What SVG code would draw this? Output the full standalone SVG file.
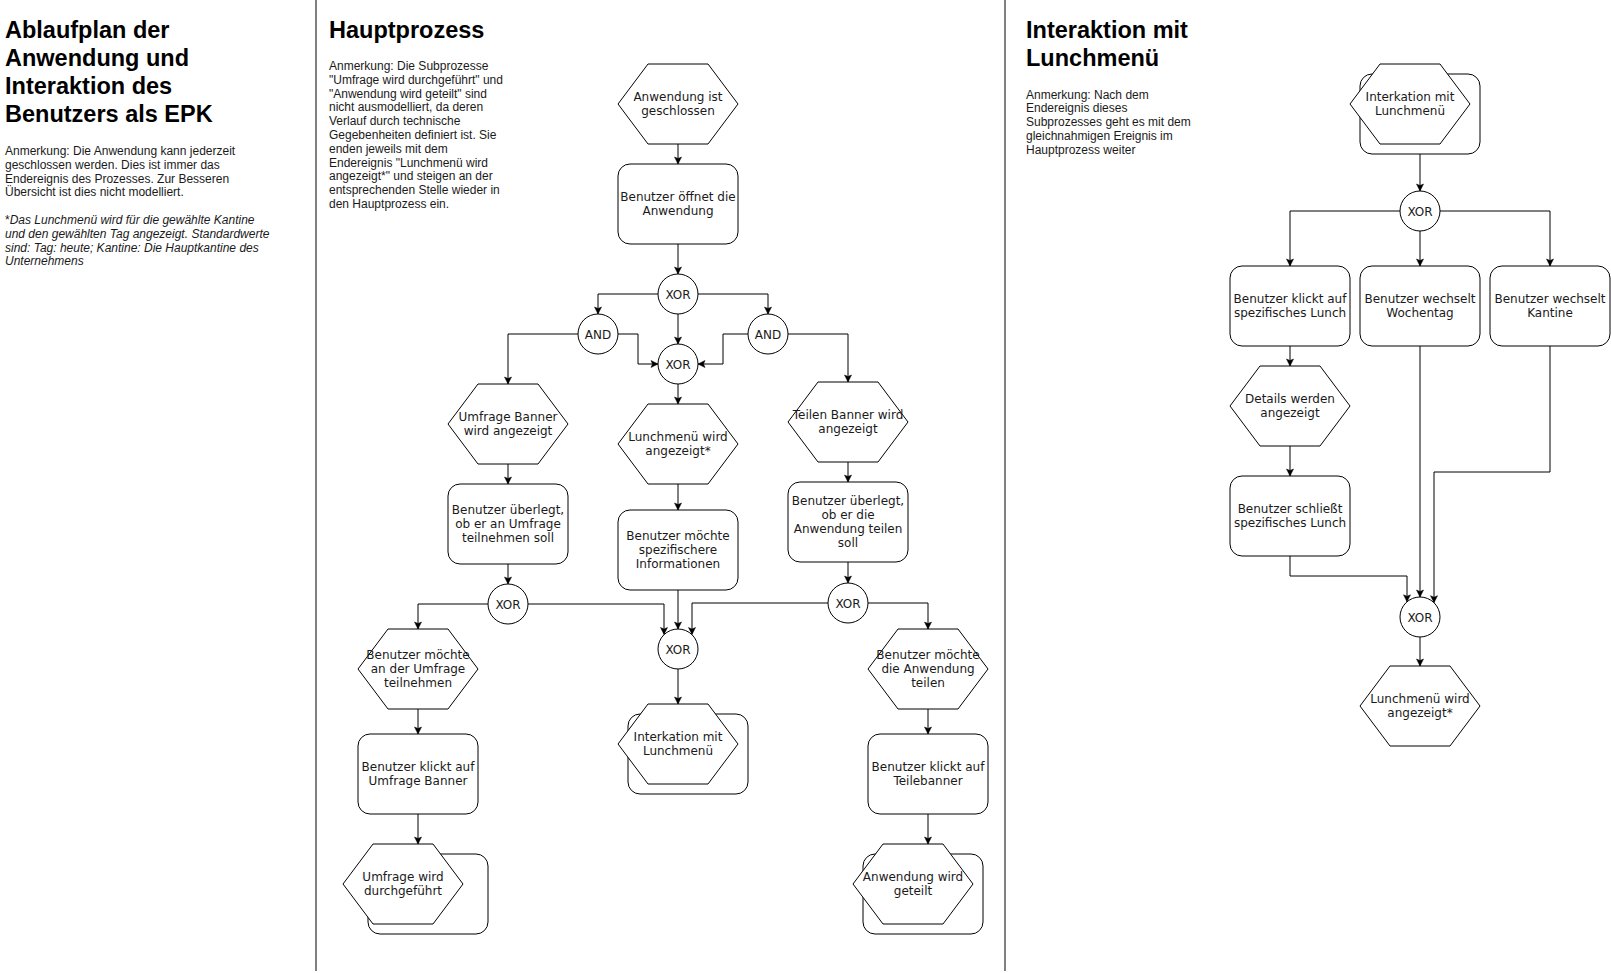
<svg xmlns="http://www.w3.org/2000/svg" width="1611" height="973" viewBox="0 0 1611 973">
<style>
.n{fill:#fff;stroke:#000;stroke-width:1}
.t{font-family:"DejaVu Sans",Verdana,sans-serif;font-size:12px;text-anchor:middle;fill:#1a1a1a}
.c{fill:none;stroke:#000;stroke-width:1;marker-end:url(#a)}
.ttl{font-family:"Liberation Sans",Arial,sans-serif;font-weight:bold;font-size:23.5px;fill:#000}
.note{font-family:"Liberation Sans",Arial,sans-serif;font-size:12px;fill:#1a1a1a}
.div{stroke:#000;stroke-width:1}
</style>
<defs>
<marker id="a" markerUnits="userSpaceOnUse" markerWidth="10" markerHeight="10" viewBox="-8 -5 10 10" refX="0" refY="0" orient="auto">
<path d="M-7,-3.5 L0,0 L-7,3.5 L-5.5,0 Z" fill="#000" stroke="#000" stroke-width="0.5"/>
</marker>
</defs>
<rect x="0" y="0" width="1611" height="973" fill="#fff"/>

<g id="dividers">
<line class="div" x1="316" y1="0" x2="316" y2="971"/>
<line class="div" x1="1005" y1="0" x2="1005" y2="971"/>
</g>

<g id="texts">
<text class="ttl" x="5" y="38">Ablaufplan der</text>
<text class="ttl" x="5" y="66">Anwendung und</text>
<text class="ttl" x="5" y="94">Interaktion des</text>
<text class="ttl" x="5" y="122">Benutzers als EPK</text>
<text class="note" x="5" y="155">
<tspan x="5" y="155">Anmerkung: Die Anwendung kann jederzeit</tspan>
<tspan x="5" y="168.8">geschlossen werden. Dies ist immer das</tspan>
<tspan x="5" y="182.6">Endereignis des Prozesses. Zur Besseren</tspan>
<tspan x="5" y="196.4">Übersicht ist dies nicht modelliert.</tspan>
</text>
<text class="note" x="5" y="224">
<tspan x="5" y="224">*</tspan><tspan font-style="italic">Das Lunchmenü wird für die gewählte Kantine</tspan>
<tspan x="5" y="237.8" font-style="italic">und den gewählten Tag angezeigt. Standardwerte</tspan>
<tspan x="5" y="251.6" font-style="italic">sind: Tag: heute; Kantine: Die Hauptkantine des</tspan>
<tspan x="5" y="265.4" font-style="italic">Unternehmens</tspan>
</text>

<text class="ttl" x="329" y="38">Hauptprozess</text>
<text class="note">
<tspan x="329" y="70">Anmerkung: Die Subprozesse</tspan>
<tspan x="329" y="83.8">"Umfrage wird durchgeführt" und</tspan>
<tspan x="329" y="97.6">"Anwendung wird geteilt" sind</tspan>
<tspan x="329" y="111.4">nicht ausmodelliert, da deren</tspan>
<tspan x="329" y="125.2">Verlauf durch technische</tspan>
<tspan x="329" y="139">Gegebenheiten definiert ist. Sie</tspan>
<tspan x="329" y="152.8">enden jeweils mit dem</tspan>
<tspan x="329" y="166.6">Endereignis "Lunchmenü wird</tspan>
<tspan x="329" y="180.4">angezeigt*" und steigen an der</tspan>
<tspan x="329" y="194.2">entsprechenden Stelle wieder in</tspan>
<tspan x="329" y="208">den Hauptprozess ein.</tspan>
</text>

<text class="ttl" x="1026" y="38">Interaktion mit</text>
<text class="ttl" x="1026" y="66">Lunchmenü</text>
<text class="note">
<tspan x="1026" y="98.5">Anmerkung: Nach dem</tspan>
<tspan x="1026" y="112.3">Endereignis dieses</tspan>
<tspan x="1026" y="126.1">Subprozesses geht es mit dem</tspan>
<tspan x="1026" y="139.9">gleichnahmigen Ereignis im</tspan>
<tspan x="1026" y="153.7">Hauptprozess weiter</tspan>
</text>
</g>

<g id="connectors">
<path class="c" d="M678,144 L678,164"/>
<path class="c" d="M678,244 L678,274"/>
<path class="c" d="M658,294 L598,294 L598,314"/>
<path class="c" d="M698,294 L768,294 L768,314"/>
<path class="c" d="M678,314 L678,344"/>
<path class="c" d="M578,334 L508,334 L508,384"/>
<path class="c" d="M618,334 L638,334 L638,364 L658,364"/>
<path class="c" d="M748,334 L723,334 L723,364 L698,364"/>
<path class="c" d="M788,334 L848,334 L848,382"/>
<path class="c" d="M678,384 L678,404"/>
<path class="c" d="M508,464 L508,484"/>
<path class="c" d="M678,484 L678,510"/>
<path class="c" d="M848,462 L848,482"/>
<path class="c" d="M508,564 L508,584"/>
<path class="c" d="M848,562 L848,583"/>
<path class="c" d="M488,604 L418,604 L418,629"/>
<path class="c" d="M528,604 L664,604 L664,634.5"/>
<path class="c" d="M678,590 L678,629"/>
<path class="c" d="M828,603 L692,603 L692,634.5"/>
<path class="c" d="M868,603 L928,603 L928,629"/>
<path class="c" d="M678,669 L678,704"/>
<path class="c" d="M418,709 L418,734"/>
<path class="c" d="M418,814 L418,844"/>
<path class="c" d="M928,709 L928,734"/>
<path class="c" d="M928,814 L928,844"/>

<path class="c" d="M1420,154 L1420,191"/>
<path class="c" d="M1400,211 L1290,211 L1290,266"/>
<path class="c" d="M1420,231 L1420,266"/>
<path class="c" d="M1440,211 L1550,211 L1550,266"/>
<path class="c" d="M1290,346 L1290,366"/>
<path class="c" d="M1290,446 L1290,476"/>
<path class="c" d="M1290,556 L1290,576 L1407,576 L1407,601.8"/>
<path class="c" d="M1420,346 L1420,597"/>
<path class="c" d="M1550,346 L1550,472 L1434,472 L1434,602.7"/>
<path class="c" d="M1420,637 L1420,666"/>
</g>

<g id="e_geschlossen">
<polygon class="n" points="618,104 648,64 708,64 738,104 708,144 648,144"/>
<text class="t"><tspan x="678" y="101">Anwendung ist</tspan><tspan x="678" y="115">geschlossen</tspan></text>
</g>
<g id="f_oeffnet">
<rect class="n" x="618" y="164" width="120" height="80" rx="12"/>
<text class="t"><tspan x="678" y="201">Benutzer öffnet die</tspan><tspan x="678" y="215">Anwendung</tspan></text>
</g>
<g id="xor1">
<circle class="n" cx="678" cy="294" r="20"/>
<text class="t" x="678" y="298.5">XOR</text>
</g>
<g id="and_l">
<circle class="n" cx="598" cy="334" r="20"/>
<text class="t" x="598" y="338.5">AND</text>
</g>
<g id="and_r">
<circle class="n" cx="768" cy="334" r="20"/>
<text class="t" x="768" y="338.5">AND</text>
</g>
<g id="xor2">
<circle class="n" cx="678" cy="364" r="20"/>
<text class="t" x="678" y="368.5">XOR</text>
</g>
<g id="e_umfrage_banner">
<polygon class="n" points="448,424 478,384 538,384 568,424 538,464 478,464"/>
<text class="t"><tspan x="508" y="421">Umfrage Banner</tspan><tspan x="508" y="435">wird angezeigt</tspan></text>
</g>
<g id="e_lunchmenu">
<polygon class="n" points="618,444 648,404 708,404 738,444 708,484 648,484"/>
<text class="t"><tspan x="678" y="441">Lunchmenü wird</tspan><tspan x="678" y="455">angezeigt*</tspan></text>
</g>
<g id="e_teilen_banner">
<polygon class="n" points="788,422 818,382 878,382 908,422 878,462 818,462"/>
<text class="t"><tspan x="848" y="419">Teilen Banner wird</tspan><tspan x="848" y="433">angezeigt</tspan></text>
</g>
<g id="f_ueberlegt_umfrage">
<rect class="n" x="448" y="484" width="120" height="80" rx="12"/>
<text class="t"><tspan x="508" y="514">Benutzer überlegt,</tspan><tspan x="508" y="528">ob er an Umfrage</tspan><tspan x="508" y="542">teilnehmen soll</tspan></text>
</g>
<g id="f_spezifisch">
<rect class="n" x="618" y="510" width="120" height="80" rx="12"/>
<text class="t"><tspan x="678" y="540">Benutzer möchte</tspan><tspan x="678" y="554">spezifischere</tspan><tspan x="678" y="568">Informationen</tspan></text>
</g>
<g id="f_ueberlegt_teilen">
<rect class="n" x="788" y="482" width="120" height="80" rx="12"/>
<text class="t"><tspan x="848" y="505">Benutzer überlegt,</tspan><tspan x="848" y="519">ob er die</tspan><tspan x="848" y="533">Anwendung teilen</tspan><tspan x="848" y="547">soll</tspan></text>
</g>
<g id="xor_l">
<circle class="n" cx="508" cy="604" r="20"/>
<text class="t" x="508" y="608.5">XOR</text>
</g>
<g id="xor_r">
<circle class="n" cx="848" cy="603" r="20"/>
<text class="t" x="848" y="607.5">XOR</text>
</g>
<g id="xor_b">
<circle class="n" cx="678" cy="649" r="20"/>
<text class="t" x="678" y="653.5">XOR</text>
</g>
<g id="e_umfrage_teilnehmen">
<polygon class="n" points="358,669 388,629 448,629 478,669 448,709 388,709"/>
<text class="t"><tspan x="418" y="659">Benutzer möchte</tspan><tspan x="418" y="673">an der Umfrage</tspan><tspan x="418" y="687">teilnehmen</tspan></text>
</g>
<g id="f_klickt_umfrage">
<rect class="n" x="358" y="734" width="120" height="80" rx="12"/>
<text class="t"><tspan x="418" y="771">Benutzer klickt auf</tspan><tspan x="418" y="785">Umfrage Banner</tspan></text>
</g>
<g id="sp_umfrage">
<rect class="n" x="368" y="854" width="120" height="80" rx="12"/>
<polygon class="n" points="343,884 373,844 433,844 463,884 433,924 373,924"/>
<text class="t"><tspan x="403" y="881">Umfrage wird</tspan><tspan x="403" y="895">durchgeführt</tspan></text>
</g>
<g id="sp_lunch_main">
<rect class="n" x="628" y="714" width="120" height="80" rx="12"/>
<polygon class="n" points="618,744 648,704 708,704 738,744 708,784 648,784"/>
<text class="t"><tspan x="678" y="741">Interkation mit</tspan><tspan x="678" y="755">Lunchmenü</tspan></text>
</g>
<g id="e_teilen_wollen">
<polygon class="n" points="868,669 898,629 958,629 988,669 958,709 898,709"/>
<text class="t"><tspan x="928" y="659">Benutzer möchte</tspan><tspan x="928" y="673">die Anwendung</tspan><tspan x="928" y="687">teilen</tspan></text>
</g>
<g id="f_klickt_teile">
<rect class="n" x="868" y="734" width="120" height="80" rx="12"/>
<text class="t"><tspan x="928" y="771">Benutzer klickt auf</tspan><tspan x="928" y="785">Teilebanner</tspan></text>
</g>
<g id="sp_geteilt">
<rect class="n" x="863" y="854" width="120" height="80" rx="12"/>
<polygon class="n" points="853,884 883,844 943,844 973,884 943,924 883,924"/>
<text class="t"><tspan x="913" y="881">Anwendung wird</tspan><tspan x="913" y="895">geteilt</tspan></text>
</g>

<g id="sp_interaktion">
<rect class="n" x="1360" y="74" width="120" height="80" rx="12"/>
<polygon class="n" points="1350,104 1380,64 1440,64 1470,104 1440,144 1380,144"/>
<text class="t"><tspan x="1410" y="101">Interkation mit</tspan><tspan x="1410" y="115">Lunchmenü</tspan></text>
</g>
<g id="xor_r1">
<circle class="n" cx="1420" cy="211" r="20"/>
<text class="t" x="1420" y="215.5">XOR</text>
</g>
<g id="f_klickt_lunch">
<rect class="n" x="1230" y="266" width="120" height="80" rx="12"/>
<text class="t"><tspan x="1290" y="303">Benutzer klickt auf</tspan><tspan x="1290" y="317">spezifisches Lunch</tspan></text>
</g>
<g id="f_wochentag">
<rect class="n" x="1360" y="266" width="120" height="80" rx="12"/>
<text class="t"><tspan x="1420" y="303">Benutzer wechselt</tspan><tspan x="1420" y="317">Wochentag</tspan></text>
</g>
<g id="f_kantine">
<rect class="n" x="1490" y="266" width="120" height="80" rx="12"/>
<text class="t"><tspan x="1550" y="303">Benutzer wechselt</tspan><tspan x="1550" y="317">Kantine</tspan></text>
</g>
<g id="e_details">
<polygon class="n" points="1230,406 1260,366 1320,366 1350,406 1320,446 1260,446"/>
<text class="t"><tspan x="1290" y="403">Details werden</tspan><tspan x="1290" y="417">angezeigt</tspan></text>
</g>
<g id="f_schliesst">
<rect class="n" x="1230" y="476" width="120" height="80" rx="12"/>
<text class="t"><tspan x="1290" y="513">Benutzer schließt</tspan><tspan x="1290" y="527">spezifisches Lunch</tspan></text>
</g>
<g id="xor_r2">
<circle class="n" cx="1420" cy="617" r="20"/>
<text class="t" x="1420" y="621.5">XOR</text>
</g>
<g id="e_lunchmenu_sub">
<polygon class="n" points="1360,706 1390,666 1450,666 1480,706 1450,746 1390,746"/>
<text class="t"><tspan x="1420" y="703">Lunchmenü wird</tspan><tspan x="1420" y="717">angezeigt*</tspan></text>
</g>
</svg>
